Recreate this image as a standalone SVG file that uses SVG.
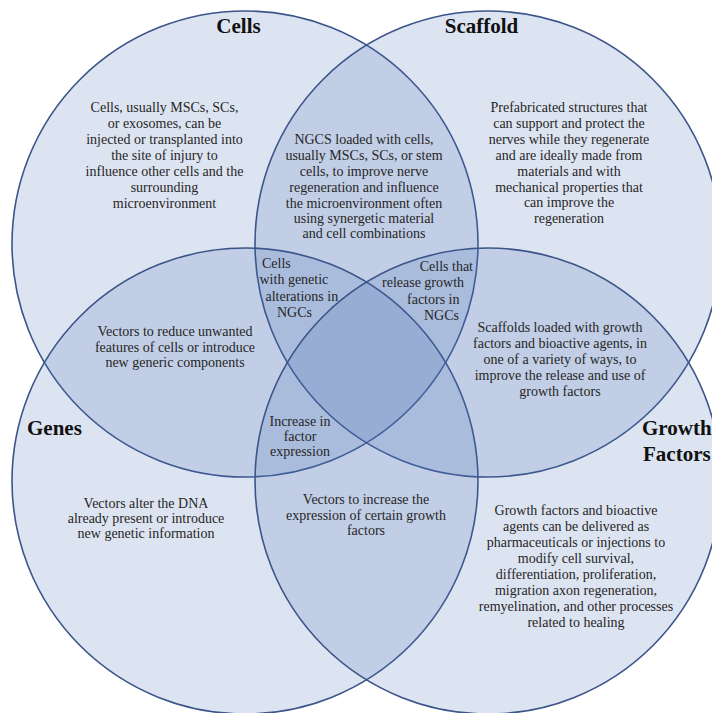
<svg xmlns="http://www.w3.org/2000/svg" width="712" height="713" viewBox="0 0 712 713">
<style>
.c{fill:#4a6fb5;fill-opacity:0.19;stroke:#3b5489;stroke-width:1.6}
.t{font-family:"Liberation Serif","Times New Roman",serif;font-size:14px;fill:#262626;text-anchor:middle}
.s{font-family:"Liberation Serif","Times New Roman",serif;font-size:14px;fill:#262626}
.h{font-family:"Liberation Serif","Times New Roman",serif;font-size:21px;font-weight:bold;fill:#111}
</style>
<rect width="712" height="713" fill="#ffffff"/>
<g id="cells"><circle class="c" cx="245" cy="244" r="233"/></g>
<g id="scaffold"><circle class="c" cx="488" cy="244" r="233"/></g>
<g id="genes"><circle class="c" cx="245" cy="481" r="233"/></g>
<g id="growth-factors"><circle class="c" cx="488" cy="481" r="233"/></g>
<g id="connectors"></g>
<g id="cells-text">
<text class="h" x="238.5" y="33" text-anchor="middle">Cells</text>
<text class="t" x="164.5" y="112">Cells, usually MSCs, SCs,</text>
<text class="t" x="164.5" y="128">or exosomes, can be</text>
<text class="t" x="164.5" y="144">injected or transplanted into</text>
<text class="t" x="164.5" y="160">the site of injury to</text>
<text class="t" x="164.5" y="176">influence other cells and the</text>
<text class="t" x="164.5" y="192">surrounding</text>
<text class="t" x="164.5" y="208">microenvironment</text>
</g>
<g id="scaffold-text">
<text class="h" x="481.5" y="33" text-anchor="middle">Scaffold</text>
<text class="t" x="569" y="112">Prefabricated structures that</text>
<text class="t" x="569" y="128">can support and protect the</text>
<text class="t" x="569" y="144">nerves while they regenerate</text>
<text class="t" x="569" y="160">and are ideally made from</text>
<text class="t" x="569" y="176">materials and with</text>
<text class="t" x="569" y="192">mechanical properties that</text>
<text class="t" x="569" y="207">can improve the</text>
<text class="t" x="569" y="223">regeneration</text>
</g>
<g id="cells-scaffold-text">
<text class="t" x="364" y="144">NGCS loaded with cells,</text>
<text class="t" x="364" y="160">usually MSCs, SCs, or stem</text>
<text class="t" x="364" y="176">cells, to improve nerve</text>
<text class="t" x="364" y="192">regeneration and influence</text>
<text class="t" x="364" y="208">the microenvironment often</text>
<text class="t" x="364" y="223">using synergetic material</text>
<text class="t" x="364" y="238">and cell combinations</text>
</g>
<g id="cells-genes-text">
<text class="t" x="175" y="336">Vectors to reduce unwanted</text>
<text class="t" x="175" y="352">features of cells or introduce</text>
<text class="t" x="175" y="367">new generic components</text>
</g>
<g id="cells-scaffold-genes-text">
<text class="s" x="262" y="268">Cells</text>
<text class="s" x="259.5" y="284">with genetic</text>
<text class="s" x="265.5" y="301">alterations in</text>
<text class="s" x="277" y="317">NGCs</text>
</g>
<g id="cells-scaffold-gf-text">
<text class="s" x="473" y="271" text-anchor="end">Cells that</text>
<text class="s" x="382" y="287">release growth</text>
<text class="s" x="407" y="304">factors in</text>
<text class="s" x="424" y="320">NGCs</text>
</g>
<g id="scaffold-gf-text">
<text class="t" x="560" y="332">Scaffolds loaded with growth</text>
<text class="t" x="560" y="348">factors and bioactive agents, in</text>
<text class="t" x="560" y="364">one of a variety of ways, to</text>
<text class="t" x="560" y="380">improve the release and use of</text>
<text class="t" x="560" y="396">growth factors</text>
</g>
<g id="cells-genes-gf-text">
<text class="t" x="300" y="426">Increase in</text>
<text class="t" x="300" y="441">factor</text>
<text class="t" x="300" y="456">expression</text>
</g>
<g id="genes-text">
<text class="h" x="27" y="435">Genes</text>
<text class="t" x="146" y="508">Vectors alter the DNA</text>
<text class="t" x="146" y="523">already present or introduce</text>
<text class="t" x="146" y="538">new genetic information</text>
</g>
<g id="genes-gf-text">
<text class="t" x="366" y="504">Vectors to increase the</text>
<text class="t" x="366" y="520">expression of certain growth</text>
<text class="t" x="366" y="535">factors</text>
</g>
<g id="growth-factors-text">
<text class="h" x="642" y="435">Growth</text>
<text class="h" x="643" y="461">Factors</text>
<text class="t" x="576" y="515">Growth factors and bioactive</text>
<text class="t" x="576" y="531">agents can be delivered as</text>
<text class="t" x="576" y="547">pharmaceuticals or injections to</text>
<text class="t" x="576" y="563">modify cell survival,</text>
<text class="t" x="576" y="579">differentiation, proliferation,</text>
<text class="t" x="576" y="595">migration axon regeneration,</text>
<text class="t" x="576" y="611">remyelination, and other processes</text>
<text class="t" x="576" y="627">related to healing</text>
</g>
</svg>
